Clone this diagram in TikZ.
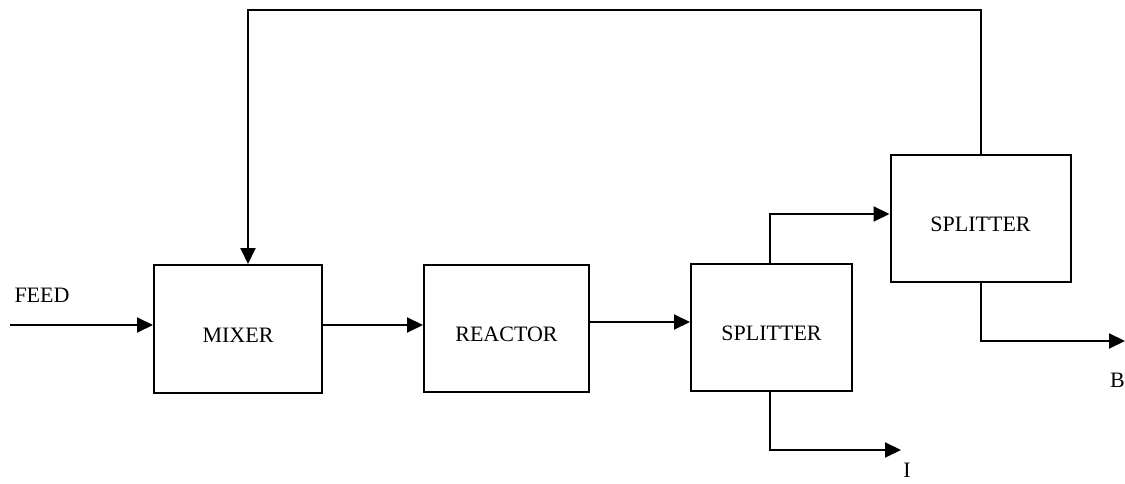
\documentclass[tikz,border=0pt]{standalone}
\usepackage{fontspec}
\setmainfont{Liberation Serif}
\usetikzlibrary{arrows.meta}
\begin{document}
\begin{tikzpicture}[x=1pt,y=-1pt,
  unit/.style={draw,line width=2pt,inner sep=0pt,font=\fontsize{22}{26}\selectfont,text height=26pt,text depth=0pt},
  flow/.style={line width=2pt,-{Triangle[length=16pt,width=15pt]}},
  lbl/.style={font=\fontsize{22}{26}\selectfont,inner sep=0pt}]
\useasboundingbox (0,0) rectangle (1125,484);
\node[unit,minimum width=168pt,minimum height=128pt] (mixer) at (238,329) {MIXER};
\node[unit,minimum width=165pt,minimum height=127pt] (reactor) at (506.5,328.5) {REACTOR};
\node[unit,minimum width=161pt,minimum height=127pt] (split1) at (771.5,327.5) {SPLITTER};
\node[unit,minimum width=180pt,minimum height=127pt] (split2) at (980.5,218.5) {SPLITTER};
\node[lbl] (feed) at (42,295) {FEED};
\node[lbl,anchor=east] (blbl) at (1125,380) {B};
\node[lbl] (ilbl) at (907,470) {I};
\coordinate (feedin) at (10,325);
\coordinate (Bend) at (1125,341);
\coordinate (Iend) at (901,450);
\draw[flow] (feedin) -- (feedin -| mixer.west);
\draw[flow] (mixer.east |- 0,325) -- (reactor.west |- 0,325);
\draw[flow] (reactor.east |- 0,322) -- (split1.west |- 0,322);
\draw[flow] (770,0 |- split1.north) -- (770,214) -- (split2.west |- 0,214);
\draw[flow] (981,0 |- split2.north) -- (981,10) -- (248,10) -- (248,0 |- mixer.north);
\draw[flow] (981,0 |- split2.south) -- (981,341) -- (Bend);
\draw[flow] (770,0 |- split1.south) -- (770,450) -- (Iend);
\end{tikzpicture}
\end{document}
